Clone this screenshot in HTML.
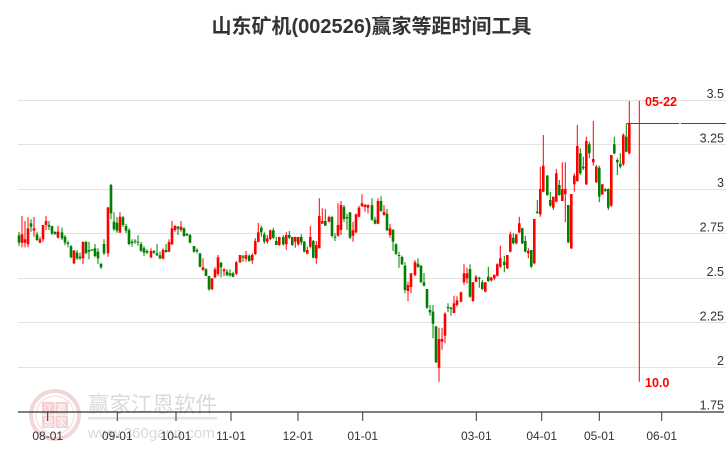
<!DOCTYPE html>
<html><head><meta charset="utf-8"><style>
html,body{margin:0;padding:0;background:#fff;}
svg{display:block;}
text{font-family:"Liberation Sans","Noto Sans CJK SC",sans-serif;}
</style></head><body>
<svg width="726" height="450" viewBox="0 0 726 450" xmlns="http://www.w3.org/2000/svg">
<rect width="726" height="450" fill="#fff"/>
<text x="371.5" y="33" text-anchor="middle" font-size="20" font-weight="bold" fill="#333">山东矿机(002526)赢家等距时间工具</text>
<!-- watermark -->
<g opacity="0.9">
<circle cx="55" cy="415" r="24" fill="none" stroke="#f2d2d2" stroke-width="4"/>
<circle cx="55" cy="415" r="19" fill="none" stroke="#f6e0e0" stroke-width="1.5"/>
<rect x="42" y="402" width="12.5" height="12.5" fill="#f3cccc"/>
<rect x="55.5" y="402" width="12.5" height="12.5" fill="#f3cccc"/>
<rect x="42" y="415.5" width="12.5" height="12.5" fill="#f3cccc"/>
<rect x="55.5" y="415.5" width="12.5" height="12.5" fill="#f3cccc"/>
<text x="48.2" y="412.5" text-anchor="middle" font-size="10" fill="#fff">江</text>
<text x="61.7" y="412.5" text-anchor="middle" font-size="10" fill="#fff">赢</text>
<text x="48.2" y="426" text-anchor="middle" font-size="10" fill="#fff">恩</text>
<text x="61.7" y="426" text-anchor="middle" font-size="10" fill="#fff">家</text>
<text x="88" y="412" font-size="21.5" fill="#d6d6d6">赢家江恩软件</text>
<rect x="88" y="417" width="129" height="2.5" fill="#ecdcdc"/>
<text x="88" y="438" font-size="15" fill="#d4d4d4">www.360gann.com</text>
</g>
<!-- grid -->
<g stroke="#e2e2e2" stroke-width="1">
<line x1="18" y1="100.5" x2="726" y2="100.5"/>
<line x1="18" y1="144.5" x2="726" y2="144.5"/>
<line x1="18" y1="189.5" x2="726" y2="189.5"/>
<line x1="18" y1="233.5" x2="726" y2="233.5"/>
<line x1="18" y1="278.5" x2="726" y2="278.5"/>
<line x1="18" y1="322.5" x2="726" y2="322.5"/>
<line x1="18" y1="367.5" x2="726" y2="367.5"/>
</g>
<g font-size="12.5" fill="#333" text-anchor="end">
<text x="724" y="98">3.5</text>
<text x="724" y="142.5">3.25</text>
<text x="724" y="187">3</text>
<text x="724" y="231.5">2.75</text>
<text x="724" y="276">2.5</text>
<text x="724" y="320.5">2.25</text>
<text x="724" y="365">2</text>
<text x="724" y="409.5">1.75</text>
</g>
<!-- axis -->
<line x1="18" y1="412" x2="724" y2="412" stroke="#333" stroke-width="1.2"/>
<g stroke="#333" stroke-width="1">
<line x1="47.7" y1="412" x2="47.7" y2="421"/>
<line x1="117.3" y1="412" x2="117.3" y2="421"/>
<line x1="176" y1="412" x2="176" y2="421"/>
<line x1="231" y1="412" x2="231" y2="421"/>
<line x1="298" y1="412" x2="298" y2="421"/>
<line x1="362.7" y1="412" x2="362.7" y2="421"/>
<line x1="476.3" y1="412" x2="476.3" y2="421"/>
<line x1="541.7" y1="412" x2="541.7" y2="421"/>
<line x1="599.3" y1="412" x2="599.3" y2="421"/>
<line x1="661.7" y1="412" x2="661.7" y2="421"/>
</g>
<g font-size="12" fill="#333" text-anchor="middle">
<text x="47.7" y="440">08-01</text>
<text x="117.3" y="440">09-01</text>
<text x="176" y="440">10-01</text>
<text x="231" y="440">11-01</text>
<text x="298" y="440">12-01</text>
<text x="362.7" y="440">01-01</text>
<text x="476.3" y="440">03-01</text>
<text x="541.7" y="440">04-01</text>
<text x="599.3" y="440">05-01</text>
<text x="661.7" y="440">06-01</text>
</g>
<!-- green candles -->
<path fill="none" stroke="#008000" stroke-width="1" d="M19 232V246M31 219.3V231.7M37 231.7V241M49 221V230M52 226V235M55 231.7V234.3M62 227.7V240M65 235V245.3M68 240.7V247.3M71 245V258.3M77 250V260M80 252.7V260M86 240.7V254M89 241.7V259.3M95 244V257.3M98 248.3V264M101 262.7V268.7M104 239.3V255M111 184V219.3M114 212.3V230.7M117 217.3V232.7M123 216V226.7M126 224V233.3M129 228.3V245.3M132 239.3V246.7M135 239.3V244M138 235.3V245.7M141 242V252M144 246V256M147 249.3V254M154 250V254M157 244V256M160 251.7V259.3M166 244V252.7M178 226V235M184 227.3V236.7M187 233V236M190 234V243.3M194 246V252.7M197 248.3V253.3M200 253.3V267.3M206 268.3V276M209 276V290.7M221 262V277.3M227 269.3V276M230 269.3V276.7M233 271.7V277.3M243 255V261.7M249.3 254.3V261.7M261.3 225.7V236.7M264.3 232.3V243.7M273.3 227.7V239M276.3 236.7V245M283.3 235V245.7M289.3 231V239M292.3 237V245.7M301.3 234.3V245M304.3 241V252.3M313.3 240V258.3M325.3 209V225.7M332 215.7V237.3M335 233.3V241M344 205V221.7M347 213.7V230M350 212.3V239M372 198.3V221M375 216.7V224.3M381 196.3V211.7M387 209V231M393 229V251M396 243.3V255M399 251.7V267.7M402 255.7V265M405 262.3V293.3M418 258.3V267.7M421 265V282.7M424 273V286.3M427 289V309M430 305V315.7M433 305V338.3M436 326.3V363M448 303.3V312.3M451 306.7V315.7M470 264.3V297.7M479.3 276.7V287.7M482.3 280V290M488.3 266.7V281.7M504.3 255.7V272.3M513.3 233.3V244.3M522.3 227.7V244.3M525.3 235.7V252.3M531.3 250V267.7M537.3 200V213.7M547.3 175V195.7M550.3 191.7V206.7M559.3 180V195.7M568.3 205V243.3M580.3 148.3V175M583.3 156.7V170M589.3 141.7V158.3M599.3 165.7V202.3M605.3 188.3V191.7M608.3 188.3V210M614.3 136.7V154.3M617.3 158.3V175M620.3 153.3V168.3M626.3 123.3V152.3"/>
<g fill="#008000">
<rect x="17.7" y="235.3" width="2.6" height="7.4"/><rect x="29.7" y="223.3" width="2.6" height="3.4"/><rect x="35.7" y="234.3" width="2.6" height="5.7"/><rect x="47.7" y="225" width="2.6" height="1.7"/><rect x="50.7" y="226" width="2.6" height="7.3"/><rect x="53.7" y="231.7" width="2.6" height="2.6"/><rect x="60.7" y="232.3" width="2.6" height="6"/><rect x="63.7" y="236.7" width="2.6" height="6"/><rect x="66.7" y="242.7" width="2.6" height="1.3"/><rect x="69.7" y="246.3" width="2.6" height="11"/><rect x="75.7" y="252.7" width="2.6" height="5.6"/><rect x="78.7" y="256.7" width="2.6" height="1.6"/><rect x="84.7" y="242" width="2.6" height="11.3"/><rect x="87.7" y="250" width="2.6" height="1.7"/><rect x="90.7" y="249.3" width="2.6" height="1.4"/><rect x="93.7" y="248.3" width="2.6" height="7.7"/><rect x="96.7" y="251.7" width="2.6" height="6.6"/><rect x="99.7" y="264" width="2.6" height="3.3"/><rect x="102.7" y="244" width="2.6" height="9.3"/><rect x="109.7" y="185" width="2.6" height="28.3"/><rect x="112.7" y="221.7" width="2.6" height="7.6"/><rect x="115.7" y="222.7" width="2.6" height="8"/><rect x="121.7" y="217.3" width="2.6" height="7.7"/><rect x="124.7" y="226" width="2.6" height="4.7"/><rect x="127.7" y="230" width="2.6" height="14"/><rect x="130.7" y="241.7" width="2.6" height="1.6"/><rect x="133.7" y="240.7" width="2.6" height="1"/><rect x="136.7" y="241.7" width="2.6" height="1"/><rect x="139.7" y="244" width="2.6" height="6.7"/><rect x="142.7" y="248.3" width="2.6" height="4.4"/><rect x="145.7" y="251" width="2.6" height="1.7"/><rect x="152.7" y="251" width="2.6" height="1.7"/><rect x="155.7" y="253.3" width="2.6" height="2"/><rect x="158.7" y="255.3" width="2.6" height="3"/><rect x="164.7" y="250" width="2.6" height="2"/><rect x="176.7" y="226.7" width="2.6" height="2"/><rect x="182.7" y="228.3" width="2.6" height="7.7"/><rect x="185.7" y="234" width="2.6" height="1.3"/><rect x="188.7" y="235" width="2.6" height="7.7"/><rect x="192.7" y="246" width="2.6" height="5.7"/><rect x="195.7" y="250" width="2.6" height="1.3"/><rect x="198.7" y="253.3" width="2.6" height="13.4"/><rect x="204.7" y="269.3" width="2.6" height="6.7"/><rect x="207.7" y="276" width="2.6" height="13.3"/><rect x="219.7" y="262.7" width="2.6" height="4.6"/><rect x="225.7" y="271.7" width="2.6" height="3.6"/><rect x="228.7" y="273.3" width="2.6" height="2"/><rect x="231.7" y="273.3" width="2.6" height="3.4"/><rect x="241.7" y="256.3" width="2.6" height="1.4"/><rect x="248" y="255.7" width="2.6" height="5.3"/><rect x="260" y="227.7" width="2.6" height="4.6"/><rect x="263" y="234.3" width="2.6" height="7.4"/><rect x="272" y="230.3" width="2.6" height="7.4"/><rect x="275" y="241" width="2.6" height="4"/><rect x="282" y="237" width="2.6" height="7.3"/><rect x="288" y="235" width="2.6" height="2.7"/><rect x="291" y="237" width="2.6" height="8"/><rect x="300" y="237" width="2.6" height="5.3"/><rect x="303" y="241.7" width="2.6" height="10"/><rect x="312" y="241" width="2.6" height="16.7"/><rect x="324" y="221" width="2.6" height="4.7"/><rect x="330.7" y="217" width="2.6" height="19"/><rect x="333.7" y="236.7" width="2.6" height="1"/><rect x="342.7" y="207" width="2.6" height="12"/><rect x="345.7" y="217" width="2.6" height="1.3"/><rect x="348.7" y="212.3" width="2.6" height="25.4"/><rect x="370.7" y="205" width="2.6" height="14.7"/><rect x="373.7" y="219.7" width="2.6" height="4"/><rect x="379.7" y="201" width="2.6" height="10"/><rect x="385.7" y="213.7" width="2.6" height="16.6"/><rect x="391.7" y="230" width="2.6" height="11.7"/><rect x="394.7" y="244.3" width="2.6" height="9.4"/><rect x="397.7" y="255" width="2.6" height="1"/><rect x="400.7" y="257" width="2.6" height="7.3"/><rect x="403.7" y="265.7" width="2.6" height="24.3"/><rect x="416.7" y="263.7" width="2.6" height="3.3"/><rect x="419.7" y="265.7" width="2.6" height="16.6"/><rect x="422.7" y="282.3" width="2.6" height="3.4"/><rect x="425.7" y="289" width="2.6" height="18.7"/><rect x="428.7" y="310" width="2.6" height="2.3"/><rect x="431.7" y="311.7" width="2.6" height="12"/><rect x="434.7" y="326.3" width="2.6" height="36"/><rect x="446.7" y="307" width="2.6" height="1.3"/><rect x="449.7" y="307.7" width="2.6" height="1.3"/><rect x="468.7" y="269" width="2.6" height="27.7"/><rect x="478" y="277.7" width="2.6" height="1.3"/><rect x="481" y="282.3" width="2.6" height="6.7"/><rect x="487" y="276.7" width="2.6" height="4.3"/><rect x="503" y="261.7" width="2.6" height="3.3"/><rect x="512" y="237.7" width="2.6" height="5.6"/><rect x="521" y="228.3" width="2.6" height="15"/><rect x="524" y="241" width="2.6" height="10.7"/><rect x="530" y="250" width="2.6" height="16.7"/><rect x="536" y="211.7" width="2.6" height="1.3"/><rect x="546" y="175.7" width="2.6" height="19.3"/><rect x="549" y="200" width="2.6" height="5.7"/><rect x="558" y="185" width="2.6" height="10"/><rect x="567" y="205" width="2.6" height="37.3"/><rect x="579" y="153.3" width="2.6" height="20"/><rect x="582" y="166.7" width="2.6" height="1.6"/><rect x="588" y="144.3" width="2.6" height="9"/><rect x="598" y="167.7" width="2.6" height="29"/><rect x="604" y="189.3" width="2.6" height="1.7"/><rect x="607" y="189" width="2.6" height="18.7"/><rect x="613" y="144.3" width="2.6" height="9"/><rect x="616" y="160" width="2.6" height="2.3"/><rect x="619" y="163.7" width="2.6" height="3"/><rect x="625" y="136.7" width="2.6" height="15"/>
</g>
<!-- red candles -->
<path fill="none" stroke="#ff0000" stroke-width="1" d="M22 216V247.3M25 221V247.3M28 217.3V247.3M34 217V236.7M40 236.7V243.3M43 225V241.7M46 216V230M58 226V238.3M74 250V264M83 241.3V264M108 207.3V256.7M120 212.3V232.7M151 248.3V258.3M163 248.3V259.3M169 239.3V252M172 220.7V245M175 225V231.7M181 221V231.7M203 258.3V270.7M212 278.3V290M215 267.3V278.3M218 255V276M224 268.3V276M236.3 261V275M240 255V263M246 251V261.7M252.3 253.3V263.7M255.3 238.3V255M258.3 223V242.3M267.3 235V243.7M270.3 229.7V240.3M279.3 236.7V245.7M286.3 232.3V249.7M295.3 236.7V247.7M298.3 237V245.7M307.3 246.7V254.3M310.3 226V248.3M316.3 241V263.7M319.3 198.3V248.3M322.3 208.3V223.7M329 215.7V222.3M338 203.3V236.7M341 201V235M353 221.7V241.7M356 213.7V233.3M359 205.7V217.3M362 194.3V206.7M365 203.7V211.7M368 204.3V213.3M378 198.3V224.3M384 205V215.7M390 223.7V237.7M408 281.7V301M411 273.3V293.3M415 260V276.3M439 327.7V381.7M442 327.7V349.7M445 312.3V343.3M454 295.7V313.3M457 296.3V306.7M461 291.7V302.3M464 264.3V285M467 267.7V283.3M473 282.3V301.7M476 275V282.3M485.3 282.3V292.3M491.3 276.7V281.7M494.3 274.3V280.3M497.3 263.3V276.7M500.3 245.7V267.7M507.3 255V269M510.3 231.7V252.3M516.3 234.3V244.3M519.3 216.7V233.3M528.3 248.3V258.3M534.3 219V264.3M540.3 166.7V216.7M543.3 135V192.3M553.3 196.7V210M556.3 169V202.3M562.3 162.3V201M565.3 162.3V222.3M571.3 194V249M574.3 173.3V191.7M577.3 125V181.7M586.3 136.7V185M593.3 121V165.7M596.3 165V183M602.3 184.3V195M611.3 155V206.7M623.3 133.3V165.7M629.3 101V154.3"/>
<g fill="#ff0000">
<rect x="20.7" y="234.3" width="2.6" height="8.4"/><rect x="23.7" y="239.3" width="2.6" height="3.4"/><rect x="26.7" y="228.3" width="2.6" height="16"/><rect x="32.7" y="228.3" width="2.6" height="2.4"/><rect x="38.7" y="239.3" width="2.6" height="3.4"/><rect x="41.7" y="225" width="2.6" height="14.3"/><rect x="44.7" y="221" width="2.6" height="4"/><rect x="56.7" y="231.7" width="2.6" height="6"/><rect x="72.7" y="250.7" width="2.6" height="12.6"/><rect x="81.7" y="242" width="2.6" height="16.3"/><rect x="106.7" y="207.3" width="2.6" height="46"/><rect x="118.7" y="216.7" width="2.6" height="16"/><rect x="149.7" y="251" width="2.6" height="6.3"/><rect x="161.7" y="250" width="2.6" height="8.7"/><rect x="167.7" y="242" width="2.6" height="9.7"/><rect x="170.7" y="228.3" width="2.6" height="16"/><rect x="173.7" y="226" width="2.6" height="4"/><rect x="179.7" y="226.7" width="2.6" height="3.3"/><rect x="201.7" y="267.3" width="2.6" height="2.7"/><rect x="210.7" y="278.3" width="2.6" height="11"/><rect x="213.7" y="269.3" width="2.6" height="8"/><rect x="216.7" y="257.3" width="2.6" height="16.7"/><rect x="222.7" y="269.3" width="2.6" height="2"/><rect x="235" y="262.3" width="2.6" height="11.4"/><rect x="238.7" y="255" width="2.6" height="7.3"/><rect x="244.7" y="255" width="2.6" height="4"/><rect x="251" y="255" width="2.6" height="5.3"/><rect x="254" y="241" width="2.6" height="13"/><rect x="257" y="232.3" width="2.6" height="9.4"/><rect x="266" y="238.3" width="2.6" height="3.4"/><rect x="269" y="230.3" width="2.6" height="8.7"/><rect x="278" y="237" width="2.6" height="8"/><rect x="285" y="235" width="2.6" height="9.3"/><rect x="294" y="237" width="2.6" height="4.7"/><rect x="297" y="237" width="2.6" height="7.3"/><rect x="306" y="250" width="2.6" height="3.7"/><rect x="309" y="237" width="2.6" height="9.7"/><rect x="315" y="245" width="2.6" height="13.3"/><rect x="318" y="216" width="2.6" height="32.3"/><rect x="321" y="221" width="2.6" height="2.7"/><rect x="327.7" y="217" width="2.6" height="4.7"/><rect x="336.7" y="225" width="2.6" height="10.7"/><rect x="339.7" y="205" width="2.6" height="25"/><rect x="351.7" y="230.3" width="2.6" height="5.4"/><rect x="354.7" y="214.3" width="2.6" height="18"/><rect x="357.7" y="207.7" width="2.6" height="9"/><rect x="360.7" y="203.3" width="2.6" height="3"/><rect x="363.7" y="205" width="2.6" height="2"/><rect x="366.7" y="205" width="2.6" height="2.7"/><rect x="376.7" y="201" width="2.6" height="22.7"/><rect x="382.7" y="211.7" width="2.6" height="3.3"/><rect x="388.7" y="228.3" width="2.6" height="6.7"/><rect x="406.7" y="285" width="2.6" height="6"/><rect x="409.7" y="273.3" width="2.6" height="13.7"/><rect x="413.7" y="262.3" width="2.6" height="12.7"/><rect x="437.7" y="339" width="2.6" height="28.7"/><rect x="440.7" y="339" width="2.6" height="2.7"/><rect x="443.7" y="313.7" width="2.6" height="22"/><rect x="452.7" y="303.3" width="2.6" height="9.7"/><rect x="455.7" y="300.3" width="2.6" height="4.7"/><rect x="459.7" y="292.3" width="2.6" height="9.4"/><rect x="462.7" y="273.3" width="2.6" height="9"/><rect x="465.7" y="273.3" width="2.6" height="5"/><rect x="471.7" y="282.3" width="2.6" height="18.7"/><rect x="474.7" y="276.7" width="2.6" height="5"/><rect x="484" y="282.3" width="2.6" height="9.4"/><rect x="490" y="277.7" width="2.6" height="2.6"/><rect x="493" y="275" width="2.6" height="3.3"/><rect x="496" y="264.3" width="2.6" height="11.4"/><rect x="499" y="258.3" width="2.6" height="8.4"/><rect x="506" y="255" width="2.6" height="13.3"/><rect x="509" y="234.3" width="2.6" height="17.4"/><rect x="515" y="234.3" width="2.6" height="9"/><rect x="518" y="223.3" width="2.6" height="9"/><rect x="527" y="251" width="2.6" height="2.3"/><rect x="533" y="219" width="2.6" height="44.3"/><rect x="539" y="189" width="2.6" height="25.3"/><rect x="542" y="165.7" width="2.6" height="26"/><rect x="552" y="196.7" width="2.6" height="11"/><rect x="555" y="173.3" width="2.6" height="28.4"/><rect x="561" y="189" width="2.6" height="12"/><rect x="564" y="189" width="2.6" height="5.3"/><rect x="570" y="194" width="2.6" height="54.3"/><rect x="573" y="175.7" width="2.6" height="8.6"/><rect x="576" y="146" width="2.6" height="35"/><rect x="585" y="141" width="2.6" height="43.3"/><rect x="592" y="159" width="2.6" height="3.3"/><rect x="595" y="166.7" width="2.6" height="15.6"/><rect x="601" y="184.3" width="2.6" height="10"/><rect x="610" y="155" width="2.6" height="50.7"/><rect x="622" y="135" width="2.6" height="29.3"/><rect x="628" y="123.3" width="2.6" height="30"/>
</g>
<!-- overlays -->
<line x1="627" y1="123.5" x2="726" y2="123.5" stroke="#008000" stroke-width="1" stroke-dasharray="52 2"/>
<line x1="639.3" y1="100.7" x2="639.3" y2="381.7" stroke="#ff0000" stroke-width="1"/>
<text x="645" y="106" font-size="12.5" font-weight="bold" fill="#ff0000">05-22</text>
<text x="645" y="387" font-size="12.5" font-weight="bold" fill="#ff0000">10.0</text>
</svg>
</body></html>
